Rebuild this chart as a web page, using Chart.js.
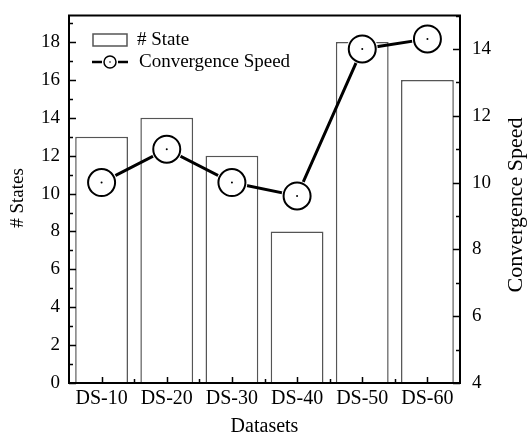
<!DOCTYPE html>
<html lang="en">
<head>
  <meta charset="UTF-8">
  <title>States and Convergence Speed</title>
  <script src="https://cdn.jsdelivr.net/npm/chart.js"></script>
  <style>
    html, body {
      margin: 0;
      padding: 0;
      background: #fff;
    }
    .chart-container {
      position: relative;
      width: 527px;
      height: 437px;
    }
  </style>
</head>
<body>
  <div class="chart-container">
    <canvas id="chart"></canvas>
  </div>

  <script>
    // Data
    const datasets = ['DS-10', 'DS-20', 'DS-30', 'DS-40', 'DS-50', 'DS-60'];
    const stateCounts = [13, 14, 12, 8, 18, 16];
    const convergenceSpeed = [10.0, 11.0, 10.0, 9.6, 14.0, 14.3];

    const FONT = "'Liberation Serif', 'Times New Roman', serif";

    // Frame, inward ticks, axis titles and legend like the original plot
    const framePlugin = {
      id: 'frame',
      afterDraw(chart) {
        const { ctx, chartArea: a, scales } = chart;
        ctx.save();
        ctx.strokeStyle = '#000';
        ctx.lineWidth = 2;
        ctx.strokeRect(a.left, a.top, a.right - a.left, a.bottom - a.top);

        ctx.lineWidth = 1.5;
        ctx.beginPath();
        // left axis ticks
        for (let v = 0; v <= 19; v++) {
          const y = Math.round(scales.y.getPixelForValue(v)) + 0.5;
          const len = v % 2 === 0 ? 7 : 4;
          ctx.moveTo(a.left, y);
          ctx.lineTo(a.left + len, y);
        }
        // right axis ticks
        for (let v = 4; v <= 15; v++) {
          const y = Math.round(scales.y2.getPixelForValue(v)) + 0.5;
          const len = v % 2 === 0 ? 7 : 4;
          ctx.moveTo(a.right, y);
          ctx.lineTo(a.right - len, y);
        }
        // bottom ticks: centres and boundaries
        for (let i = 0; i < datasets.length; i++) {
          const x = Math.round(scales.x.getPixelForValue(i)) + 0.5;
          ctx.moveTo(x, a.bottom);
          ctx.lineTo(x, a.bottom - 6);
          if (i > 0) {
            const xb = Math.round((scales.x.getPixelForValue(i) + scales.x.getPixelForValue(i - 1)) / 2) + 0.5;
            ctx.moveTo(xb, a.bottom);
            ctx.lineTo(xb, a.bottom - 4);
          }
        }
        ctx.stroke();

        // axis titles
        ctx.fillStyle = '#000';
        ctx.textAlign = 'center';
        ctx.textBaseline = 'middle';
        ctx.font = '20px ' + FONT;
        ctx.fillText('Datasets', (a.left + a.right) / 2, 427);

        ctx.font = '19px ' + FONT;
        ctx.translate(18, 198);
        ctx.rotate(-Math.PI / 2);
        ctx.fillText('# States', 0, 0);
        ctx.setTransform(1, 0, 0, 1, 0, 0);

        ctx.font = '22px ' + FONT;
        ctx.translate(516, 205);
        ctx.rotate(-Math.PI / 2);
        ctx.fillText('Convergence Speed', 0, 0);
        ctx.setTransform(1, 0, 0, 1, 0, 0);

        // legend
        ctx.fillStyle = '#fff';
        ctx.strokeStyle = '#555';
        ctx.lineWidth = 1.5;
        ctx.fillRect(93, 34, 34, 12);
        ctx.strokeRect(93, 34, 34, 12);

        ctx.strokeStyle = '#000';
        ctx.lineWidth = 2.5;
        ctx.beginPath();
        ctx.moveTo(92, 62);
        ctx.lineTo(102, 62);
        ctx.moveTo(118, 62);
        ctx.lineTo(128, 62);
        ctx.stroke();
        ctx.beginPath();
        ctx.arc(110, 62, 6, 0, Math.PI * 2);
        ctx.fillStyle = '#fff';
        ctx.fill();
        ctx.lineWidth = 1.5;
        ctx.stroke();
        ctx.beginPath();
        ctx.arc(110, 62, 0.8, 0, Math.PI * 2);
        ctx.fillStyle = '#000';
        ctx.fill();

        ctx.fillStyle = '#000';
        ctx.font = '19px ' + FONT;
        ctx.textBaseline = 'middle';
        ctx.textAlign = 'left';
        ctx.fillText('# State', 137, 40);
        ctx.fillText('Convergence Speed', 139, 62);
        ctx.restore();
      }
    };

    new Chart(document.getElementById('chart'), {
      data: {
        labels: datasets,
        datasets: [
          {
            type: 'line',
            label: 'Convergence Speed',
            data: convergenceSpeed,
            yAxisID: 'y2',
            borderColor: '#000',
            borderWidth: 3,
            pointRadius: 0,
            tension: 0,
            order: 3
          },
          {
            // white halo so the line stops short of each marker
            type: 'line',
            label: 'halo',
            data: convergenceSpeed,
            yAxisID: 'y2',
            showLine: false,
            pointRadius: 15.5,
            pointBorderWidth: 0,
            pointBackgroundColor: '#fff',
            order: 2
          },
          {
            type: 'line',
            label: 'markers',
            data: convergenceSpeed,
            yAxisID: 'y2',
            showLine: false,
            pointRadius: 13.5,
            pointBorderWidth: 2,
            pointBorderColor: '#000',
            pointBackgroundColor: '#fff',
            order: 1
          },
          {
            type: 'line',
            label: 'centre',
            data: convergenceSpeed,
            yAxisID: 'y2',
            showLine: false,
            pointRadius: 1,
            pointBorderWidth: 0,
            pointBackgroundColor: '#000',
            order: 0
          },
          {
            type: 'bar',
            label: '#State',
            data: stateCounts,
            yAxisID: 'y',
            backgroundColor: '#fff',
            borderColor: '#555',
            borderWidth: 1.5,
            barPercentage: 0.81,
            categoryPercentage: 1,
            order: 4
          }
        ]
      },
      options: {
        responsive: true,
        maintainAspectRatio: false,
        animation: false,
        layout: { padding: { top: 12, left: 0, right: 0, bottom: 0 } },
        plugins: {
          legend: { display: false },
          tooltip: { enabled: false }
        },
        scales: {
          x: {
            offset: true,
            grid: { display: false, drawTicks: false },
            border: { color: '#000', width: 2 },
            ticks: { color: '#000', font: { family: FONT, size: 20 }, padding: 4, maxRotation: 0 },
            afterFit(scale) { scale.height = 54; }
          },
          y: {
            position: 'left',
            min: 0,
            max: 19.4,
            grid: { display: false, drawTicks: false },
            border: { color: '#000', width: 2 },
            ticks: { stepSize: 2, includeBounds: false, color: '#000', font: { family: FONT, size: 19 }, padding: 9 },
            afterFit(scale) { scale.width = 69; scale.paddingTop = 0; scale.paddingBottom = 0; }
          },
          y2: {
            position: 'right',
            min: 4,
            max: 15,
            grid: { display: false, drawTicks: false },
            border: { color: '#000', width: 2 },
            ticks: { stepSize: 2, includeBounds: false, color: '#000', font: { family: FONT, size: 19 }, padding: 12 },
            afterFit(scale) { scale.width = 67; scale.paddingTop = 0; scale.paddingBottom = 0; }
          }
        }
      },
      plugins: [framePlugin]
    });
  </script>
</body>
</html>
